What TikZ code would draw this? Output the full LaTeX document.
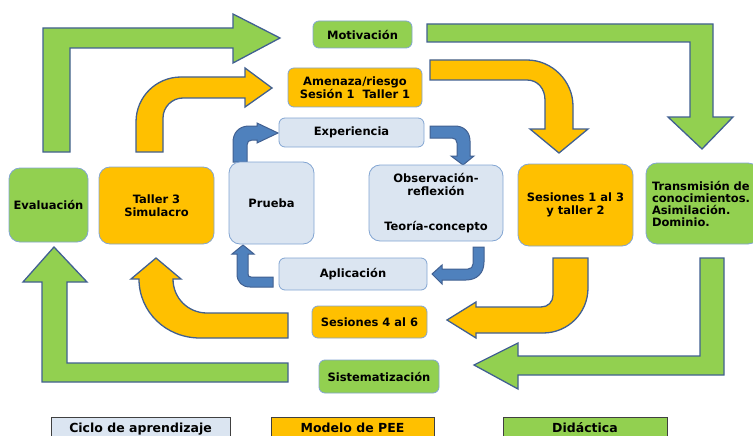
\documentclass[tikz,border=0pt]{standalone}
\usepackage{fontspec}
\setmainfont{DejaVu Sans}
\usepackage{xcolor}
\definecolor{didgreen}{RGB}{146, 208, 80}
\definecolor{peeorange}{RGB}{255, 192, 0}
\definecolor{cyclefill}{RGB}{219, 229, 241}
\definecolor{nodeline}{RGB}{130, 165, 210}
\definecolor{arrowline}{RGB}{65, 96, 145}
\definecolor{bluearrowfill}{RGB}{79, 129, 189}
\definecolor{legendline}{RGB}{64, 64, 64}

\begin{document}
\begin{tikzpicture}[
    x=1pt, y=-1pt,
    box/.style={rectangle, draw=nodeline, line width=0.8pt, rounded corners=11pt, align=center, inner sep=2pt, font=\bfseries\fontsize{11.5}{13}\selectfont},
    smallbox/.style={box, rounded corners=6pt},
    cyclebox/.style={box, fill=cyclefill},
    peebox/.style={box, fill=peeorange},
    didbox/.style={box, fill=didgreen},
    legendbox/.style={rectangle, draw=legendline, line width=0.8pt, minimum height=24pt, text height=9pt, text depth=2pt, font=\bfseries\fontsize{12.5}{14}\selectfont},
    greenarrow/.style={fill=didgreen, draw=arrowline, line width=1.3pt},
    orangearrow/.style={fill=peeorange, draw=arrowline, line width=1.3pt},
    bluearrow/.style={fill=bluearrowfill, draw=arrowline, line width=1pt},
]
\clip (0,0) rectangle (753,436);

% Didactica (green) arrows
\draw[greenarrow] (43,152) -- (43,28) -- (233,28) -- (233,14) -- (280,38) -- (233,63) -- (233,48) -- (70,48) -- (70,152) -- cycle;
\draw[greenarrow] (427,24) -- (713,24) -- (713,117) -- (733,117) -- (702,149) -- (668,117) -- (690,117) -- (690,42) -- (427,42) -- cycle;
\draw[greenarrow] (700,258) -- (724,258) -- (724,375) -- (518,375) -- (518,389) -- (474,365) -- (518,343) -- (518,356) -- (700,356) -- cycle;
\draw[greenarrow] (288,363) -- (288,382) -- (42,382) -- (42,282) -- (23,282) -- (54,247) -- (87,282) -- (67,282) -- (67,363) -- cycle;

% Modelo de PEE (orange) arrows
\draw[orangearrow] (136,152) -- (136,122) .. controls (136,97) and (156,77) .. (181,77) -- (245,77) -- (245,68) -- (272,88) -- (245,107) -- (245,98) -- (183,98) .. controls (172,98) and (163,107) .. (163,118) -- (163,152) -- cycle;
\draw[orangearrow] (430,60) -- (527,60) .. controls (552,60) and (573,81) .. (573,106) -- (573,129) -- (588,129) -- (559,153) -- (530,129) -- (545,129) -- (545,100) .. controls (545,89) and (538,80) .. (527,80) -- (430,80) -- cycle;
\draw[orangearrow] (553,258) -- (588,258) -- (588,288) .. controls (588,313) and (568,333) .. (543,333) -- (476,333) -- (476,338) -- (447,320) -- (476,302) -- (476,307) -- (541,307) .. controls (548,307) and (553,302) .. (553,295) -- cycle;
\draw[orangearrow] (288,313) -- (288,338) -- (200,338) .. controls (166,338) and (139,312) .. (139,279) -- (131,279) -- (156,258) -- (181,279) -- (173,279) .. controls (173,298) and (188,313) .. (207,313) -- cycle;

% Ciclo de aprendizaje (blue) arrows
\draw[bluearrow] (233,162) -- (233,142) .. controls (233,133) and (239,126) .. (249,126) -- (257,126) -- (257,123) -- (278,133) -- (257,143) -- (257,140) -- (252,140) .. controls (249,140) and (247,142) .. (247,145) -- (247,162) -- cycle;
\draw[bluearrow] (430,126) -- (455,126) .. controls (464,126) and (470,132) .. (470,141) -- (470,156) -- (474,156) -- (463,165) -- (451,156) -- (457,156) -- (457,143) .. controls (457,140) and (455,138) .. (452,138) -- (430,138) -- cycle;
\draw[bluearrow] (473,247) -- (484,247) -- (484,262) .. controls (484,273) and (477,280) .. (466,280) -- (442,280) -- (442,284) -- (432,274) -- (442,265) -- (442,269) -- (468,269) .. controls (471,269) and (473,267) .. (473,264) -- cycle;
\draw[bluearrow] (273,277) -- (273,287) -- (250,287) .. controls (242,287) and (237,282) .. (237,274) -- (237,254) -- (232,254) -- (243,245) -- (254,254) -- (248,254) -- (248,274) .. controls (248,276) and (249,277) .. (251,277) -- cycle;

% Top row
\node[didbox, smallbox, minimum width=99pt, minimum height=27pt] (motivacion) at (362.5,34.5) {Motivación};
\node[peebox, smallbox, minimum width=134pt, minimum height=39pt] (amenaza) at (355,87.5) {Amenaza/riesgo\\Sesión 1\ \ Taller 1};
\node[cyclebox, smallbox, minimum width=145pt, minimum height=29pt] (experiencia) at (351.5,132.5) {Experiencia};

% Middle row
\node[didbox, minimum width=79pt, minimum height=74pt] (evaluacion) at (48.5,205) {Evaluación};
\node[peebox, minimum width=115pt, minimum height=77pt] (taller3) at (156.5,205.5) {Taller 3\\Simulacro};
\node[cyclebox, minimum width=85pt, minimum height=82pt] (prueba) at (271.5,203) {Prueba};
\node[cyclebox, minimum width=134pt, minimum height=76pt] (observacion) at (436,203) {Observación-\\reflexión\\[22pt]Teoría-concepto};
\node[peebox, minimum width=115pt, minimum height=82pt] (sesiones13) at (575.5,205) {Sesiones 1 al 3\\y taller 2};
\node[didbox, align=left, text width=101pt, inner xsep=6pt, minimum height=81pt, font=\bfseries\fontsize{11.5}{12}\selectfont] (transmision) at (702.5,203.5) {Transmisión de\\conocimientos.\\Asimilación.\\Dominio.};

% Bottom row
\node[cyclebox, smallbox, minimum width=148pt, minimum height=32pt] (aplicacion) at (353,274) {Aplicación};
\node[peebox, smallbox, minimum width=115pt, minimum height=32pt] (sesiones46) at (369.5,322) {Sesiones 4 al 6};
\node[didbox, smallbox, minimum width=120pt, minimum height=33pt] (sistematizacion) at (379,376.5) {Sistematización};

% Legend
\node[legendbox, fill=cyclefill, minimum width=179pt] (legciclo) at (140.5,429) {Ciclo de aprendizaje};
\node[legendbox, fill=peeorange, minimum width=163pt] (legpee) at (352.5,429) {Modelo de PEE};
\node[legendbox, fill=didgreen, minimum width=164pt] (legdid) at (585,429) {Didáctica};

\end{tikzpicture}
\end{document}
